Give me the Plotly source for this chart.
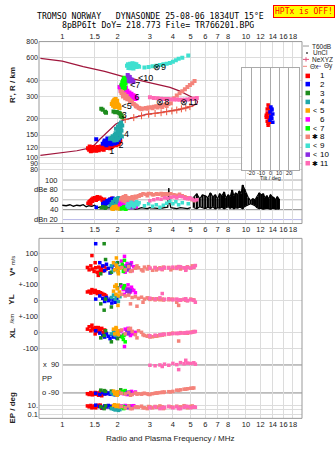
import math
import plotly.graph_objects as go

W, H = 335, 451
def PX(x): return x / W
def PY(y): return 1 - y / H

FONT = "Liberation Sans, Arial, sans-serif"
MONO = "DejaVu Sans Mono, Liberation Mono, monospace"

# ---------------- tick labels ----------------
FREQ_TICKS = [1, 1.5, 2, 3, 4, 5, 6, 7, 8, 10, 12, 14, 16, 18]
FREQ_LABELS = ["1", "1.5", "2", "3", "4", "5", "6", "7", "8", "10", "12", "14", "16", "18"]
HT_TICKS = [80, 90, 100, 120, 150, 200, 300, 400, 600, 800]
HT_LABELS = ["80", "90", "100", "120", "150", "200", "300", "400", "600", "800"]
DB_TICKS = [100, 80, 60, 40, 20]
DB_LABELS = ["100", "dBe 80", "60", "40", "dBn 20"]
TILT_TICKS = [-20, -10, 0, 10, 20]
TILT_LABELS = ["-20", "-10", "0", "10", "20"]

COLORS = ["#FF0000", "#0000FF", "#1E8C1E", "#20A8A8", "#FFA500", "#FF00FF",
          "#00FF00", "#F4837A", "#40E0D0", "#8A2BE2", "#FF69B4"]

# ---------------- height panel: echo clusters (freq MHz, virtual height km, amplitude dB) ----------------
F1 = [1.38,1.40,1.42,1.44,1.45,1.47,1.50,1.52,1.55,1.57,1.60,1.63,1.66,1.70,1.73,1.76,1.80,1.84,1.88,1.92,1.96,2.00,2.04,2.07,1.41,1.48,1.53,1.58,1.62,1.68,1.74,1.82,1.90,1.98,1.43,1.46,1.56,1.65,1.78,1.86,1.95,2.02]
R1 = [118,115,120,116,113,117,114,118,116,119,117,120,118,121,119,122,120,124,123,126,125,129,131,134,122,121,113,114,122,115,124,118,129,127,112,119,121,116,126,121,130,127]
A1 = [53,56,58,60,61,63,64,62,66,63,65,62,60,61,58,57,56,60,62,58,55,54,52,50,55,60,59,64,63,57,55,61,57,53,52,57,61,59,54,63,56,51]
F2 = [1.53,1.66,1.69,1.72,1.75,1.78,1.80,1.83,1.86,1.88,1.91,1.94,1.97,2.00,2.03,2.06,1.70,1.76,1.82,1.89,1.95,2.02,1.74,1.85,1.92,1.99]
R2 = [139,128,132,127,134,130,137,131,135,140,133,138,135,141,137,143,136,141,128,145,130,146,125,127,129,132]
A2 = [45,52,55,50,58,54,60,56,62,57,59,55,53,50,48,46,49,56,61,63,52,47,53,58,60,51]
F3 = [1.63,1.66,1.71,1.73,1.90,1.94,1.98,2.03,2.06,2.08,2.10,2.12]
R3 = [240,236,228,224,229,226,227,224,221,210,214,206]
A3 = [44,46,43,45,42,44,43,45,42,44,46,43]
F4 = [1.82,1.85,1.88,1.90,1.93,1.95,1.97,2.00,2.02,2.04,2.06,2.08,2.10,2.12,1.92,1.98,2.03,2.07,2.11,1.96,2.01,2.05,2.09]
R4 = [140,143,147,139,150,155,145,160,152,165,158,172,162,178,136,137,141,150,146,168,175,182,188]
A4 = [48,52,56,50,60,62,55,58,64,60,56,52,50,48,46,53,57,61,54,59,63,55,51]
F5 = [1.86,1.88,1.90,1.92,1.94,1.96,1.98,2.00,2.02,2.04,1.89,1.93,1.97,2.01,2.05,1.95,1.99]
R5 = [262,270,276,282,268,258,265,252,247,255,254,248,273,259,244,286,278]
A5 = [42,44,46,45,43,47,44,42,45,43,41,44,46,43,42,45,44]
F6 = [2.05,2.07,2.09,2.10,2.12,2.14,2.16,2.18,2.20,2.23,2.26,2.29,2.32,2.35,2.38,2.41,2.44,2.47,2.50,2.53,2.08,2.13,2.19,2.25,2.31,2.37,2.43,2.49,2.11,2.17,2.22]
R6 = [355,348,362,340,352,335,345,330,338,325,332,318,322,310,315,302,306,296,299,289,332,325,318,309,305,298,292,286,368,360,350]
A6 = [50,55,58,60,56,62,64,59,61,57,63,55,60,58,52,56,54,50,48,46,52,57,60,62,58,55,53,49,47,51,59]
F7 = [2.10,2.12,2.14,2.16,2.18,2.20,2.22,2.13,2.17,2.21,2.15,2.19]
R7 = [370,385,398,410,420,405,392,355,365,378,345,350]
A7 = [42,44,43,45,42,44,41,43,46,42,44,43]
F8 = [2.08,2.10,2.12,2.15,2.18,2.21,2.24,2.28,2.32,2.36,2.40,2.45,2.50,2.55,2.60,2.66,2.75,2.85,2.95,3.05,3.15,3.25,3.35,3.45,3.55,3.65,3.78,3.90,4.05,4.20,4.35,4.50,4.65,4.80,4.95,5.10,5.25,2.14,2.20,2.26,2.34,2.42,2.52,2.62,2.70,2.90,3.10,3.30,3.50,3.70]
R8 = [330,318,325,306,312,298,302,290,284,276,270,262,256,250,245,240,242,244,246,247,249,251,252,255,257,259,262,266,290,305,318,330,342,355,368,380,395,300,290,285,275,262,252,244,238,240,243,246,248,253]
A8 = [60,64,62,66,63,68,65,60,64,62,66,63,67,66,68,70,72,71,73,72,70,72,71,73,72,70,71,72,70,69,71,68,66,64,62,60,58,58,56,62,57,60,64,67,69,68,70,71,69,72]
F9 = [2.25,2.28,2.31,2.34,2.37,2.40,2.43,2.46,2.50,2.54,2.58,2.62,2.29,2.35,2.41,2.47,2.53,2.33,2.44,2.80,2.95,3.10,3.25,3.40,3.55,3.70,3.85,4.00,4.15,4.30,4.50,4.85]
R9 = [520,535,512,540,525,505,530,515,522,508,518,512,500,498,545,540,535,528,495,505,510,515,520,528,535,540,548,560,575,590,600,625]
A9 = [48,52,46,50,55,49,53,47,51,56,50,54,45,49,52,47,55,50,46,48,52,47,50,45,49,53,57,52,56,50,54,52]
F10 = [2.27,2.29,2.31,2.33,2.35,2.37,2.30,2.34,2.40,2.44]
R10 = [440,430,418,425,410,400,395,392,405,388]
A10 = [46,48,45,50,47,44,49,46,45,47]
F11 = [3.00,3.15,3.30,3.45,3.60,3.75,3.90,4.05,4.20,4.35,4.50,4.65,4.80,4.95,5.10,5.25,5.40]
R11 = [296,292,290,288,287,286,285,284,284,283,283,283,284,285,287,289,292]
A11 = [58,60,62,61,64,63,65,66,64,67,66,63,62,64,61,59,60]

# cluster labels on the height panel
LBL_F = [1.80, 2.02, 2.11, 2.17, 2.10, 2.47, 2.34, 3.25, 3.12, 2.58, 4.40]
LBL_H = [112, 124, 212, 150, 250, 293, 364, 266, 503, 410, 266]
LBL_T = ["1", "2", "3", "4", "<5", "6", "<7", "⊗8", "⊗9", "<10", "⊗11"]

# model profile (NeXYZ) path
PROF_F = [0.76,1.0,1.3,1.7,2.15,2.7,3.3,3.86,4.37,4.9,5.18,5.39,5.45,5.39,5.18,4.8,4.37,3.86,3.4,2.88,2.5,2.15,1.95,1.82,1.7,1.6,1.51,1.42,1.2,1.0,0.76]
PROF_H = [594,565,512,470,428,395,370,353,330,305,292,280,272,262,255,245,238,230,224,217,207,196,182,166,152,139,127,119,113,109,104]
NX_F = [2.2,2.45,2.7,2.95,3.2,3.45,3.7,3.95,4.2,4.45,4.7,4.95]
NX_H = [198,205,212,218,221,224,228,231,235,240,244,250]

# ---------------- amplitude panel: background noise ----------------
BLK_F = [1.0,1.05,1.1,1.15,1.2,1.25,1.3,1.35,1.4,1.45,1.5,1.55,1.6,1.7,1.8,1.9,2.0,2.1,2.2,2.3,2.4,2.5,2.6,2.7,2.8,2.9,3.0,3.2,3.4,3.6,3.75,3.8,3.85,3.9,4.0,4.2,4.4,4.6,4.8,5.0]
BLK_DB = [49,48,50,47,49,48,50,46,48,47,49,44,45,43,44,42,43,41,44,42,43,41,42,44,43,42,44,43,42,44,45,84,52,44,43,42,44,43,42,44]
NZ_F = [5.2,5.4,5.6,5.8,6.0,6.2,6.4,6.6,6.8,7.0,7.2,7.4,7.6,7.8,8.0,8.2,8.4,8.6,8.8,9.0,9.2,9.4,9.6,9.8,10.0,10.3,10.6,10.9,11.2,11.5,11.8,12.1,12.4,12.7,13.0,13.3,13.6,13.9,14.2,14.5,14.8,15.1]
NZ_HI = [66,72,62,70,68,64,74,66,70,62,72,68,76,64,70,66,80,68,74,70,78,72,90,82,74,64,58,62,60,66,74,70,72,64,68,62,70,66,64,60,66,62]
NZ_LO = [44,42,46,44,42,45,43,46,42,44,43,45,42,44,46,43,45,42,44,43,45,44,42,46,48,50,52,50,48,44,42,43,41,42,43,42,41,42,43,41,42,41]

# ---------------- lower panel: V* (m/s), YL, XL, PP (deg), EP (deg) ----------------
LF1 = [1.37,1.40,1.43,1.46,1.49,1.52,1.55,1.58,1.61,1.64,1.67,1.70,1.73,1.45,1.51,1.57]
V1 = [10,-5,20,0,-15,8,-20,12,-8,5,-12,18,0,85,40,-40]
YL1 = [55,60,48,62,52,58,45,55,50,46,40,38,30,70,65,55]
XL1 = [20,35,10,25,15,30,5,20,10,25,0,15,-5,45,-10,30]
PP1 = [-95,-100,-88,-102,-92,-98,-90,-105,-84,-108,-86,-96,-93,-99,-87,-101]
EP1 = [8,5,10,4,7,3,6,9,12,2.5,4,6,5,3,8,11]
LF2 = [1.52,1.60,1.66,1.70,1.74,1.78,1.82,1.86,1.90,1.94,1.98]
V2 = [160,40,20,-10,30,5,-25,15,-5,25,0]
YL2 = [10,30,15,-5,20,0,10,-15,5,-10,15]
XL2 = [10,-5,-20,-30,-10,-25,-40,-15,-30,-20,-35]
PP2 = [-92,-100,-88,-96,-94,-90,-98,-86,-95,-102,-91]
EP2 = [12,6,3,8,5,10,4,7,3,6,2]
LF3 = [1.62,1.69,1.72,1.85,2.00,2.08]
V3 = [-30,160,60,-20,40,10]
YL3 = [-20,-60,10,-40,80,100]
XL3 = [-35,-20,10,-60,-40,-25]
PP3 = [-72,-75,-80,-78,-85,-70]
EP3 = [5,2,8,3,6,4]
LF4 = [1.85,1.90,1.94,1.98,2.02,2.06]
V4 = [20,-10,35,0,-20,15]
YL4 = [20,35,10,30,-5,25]
XL4 = [-10,5,-20,0,-15,10]
PP4 = [-90,-100,-95,-88,-97,-92]
EP4 = [2,1.5,1,3,0.8,1.2]
LF5 = [1.90,1.93,1.96,1.99,2.02,2.05,1.97,2.01]
V5 = [40,-5,25,10,-30,5,70,-15]
YL5 = [60,90,40,75,30,55,100,-30]
XL5 = [20,-10,30,5,-15,10,25,-5]
PP5 = [-78,-95,-85,-105,-90,-82,-98,-88]
EP5 = [10,15,6,8,12,5,9,7]
LF6 = [2.10,2.15,2.20,2.25,2.30,2.35,2.40,2.45,2.50,2.18,2.28,2.38]
V6 = [50,20,-20,35,10,25,-10,15,5,80,-5,40]
YL6 = [90,70,80,60,75,55,70,65,50,40,100,85]
XL6 = [10,-15,20,-5,15,-20,5,-10,0,-90,25,-5]
PP6 = [-88,-95,-82,-100,-92,-86,-97,-90,-84,-93,-99,-80]
EP6 = [8,5,10,4,6,7,3,9,5,4,6,8]
LF7 = [2.12,2.15,2.18,2.20,2.16]
V7 = [30,-15,55,10,-5]
YL7 = [110,80,95,125,105]
XL7 = [-30,-45,-15,-60,-20]
PP7 = [-80,-92,-85,-75,-88]
EP7 = [4,6,3,5,2]
LF8 = [2.10,2.20,2.30,2.40,2.50,2.60,2.70,2.80,2.90,3.00,3.10,3.20,3.30,3.40,3.50,3.60,3.80,4.00,4.20,4.40,4.60,4.80,5.00,5.20,2.35,2.55,2.75,2.95,3.25,3.55,3.90,4.30,4.70,5.10]
V8 = [10,-5,15,-10,5,8,-5,12,0,5,-8,10,2,8,-4,6,10,4,12,0,8,14,6,10,-15,20,-12,15,-6,12,-5,15,-3,20]
YL8 = [40,30,35,20,25,15,22,10,18,8,12,5,10,6,10,8,6,10,-10,5,8,0,10,5,-20,-35,-10,15,12,4,8,-30,3,6]
XL8 = [15,-10,20,5,-15,10,0,-20,-25,-30,-28,-25,-22,-20,-18,-15,-10,-5,-8,-2,-5,-6,0,5,25,-35,-15,-20,-24,-12,-8,-55,-4,2]
PP8 = [-92,-96,-88,-100,-90,-95,-98,-92,-96,-100,-95,-92,-90,-88,-85,-84,-82,-80,-72,-70,-66,-63,-60,-58,-105,-98,-94,-99,-91,-87,-83,-74,-66,-60]
EP8 = [6,3,8,2,5,4,7,3,2,5,3,6,4,8,5,3,6,4,7,5,9,3,6,4,2,5,3,6,4,2,5,3,6,8]
LF10 = [2.25,2.28,2.31,2.34]
V10 = [20,-5,10,30]
YL10 = [60,70,50,65]
XL10 = [5,-10,0,10]
PP10 = [-90,-85,-95,-88]
EP10 = [5,3,7,4]
LF11 = [3.00,3.20,3.40,3.60,3.80,4.00,4.20,4.40,4.60,4.80,5.00,5.20,5.30,3.50,4.30,4.70]
V11 = [5,8,2,10,6,12,4,14,8,10,6,12,22,0,15,-8]
YL11 = [15,10,18,8,12,5,10,3,8,0,6,2,-10,45,4,12]
XL11 = [-22,-18,-15,-12,-10,-8,-6,-5,-4,0,-2,3,5,-14,-7,-3]
PP11 = [88,85,90,95,88,100,92,105,98,102,100,104,95,80,60,120]
EP11 = [3,5,2,4,6,3,5,2,4,6,3,5,4,3,2,6]

# ---------------- tilt inset ----------------
TILT_R = [-2,-1,0,-3,-4,-2,-1,-3,0,-2,-4,-1,-3,-2]
TY_R = [64,61,58,56,54,52,50,48,47,46,52,55,60,44]
TILT_B = [1,2,0,3,1,2,0,3,2,1]
TY_B = [62,59,57,55,53,51,49,47,60,52]

# legend rows
LEG_PREFIX = ["", "", "", "", "<", "", "<", "✱", "<", "<", "✱"]
LEG_NUM = ["1", "2", "3", "4", "5", "6", "7", "8", "9", "10", "11"]
LEG_Y = [72.7, 81, 90, 99, 107.7, 116.7, 125.7, 134.3, 143.3, 152.3, 161]

# ---------------- build table ----------------
HCL = [(F1, R1, A1), (F2, R2, A2), (F3, R3, A3), (F4, R4, A4), (F5, R5, A5), (F6, R6, A6),
       (F7, R7, A7), (F8, R8, A8), (F9, R9, A9), (F10, R10, A10), (F11, R11, A11)]
LCL = {0: (LF1, V1, YL1, XL1, PP1, EP1), 1: (LF2, V2, YL2, XL2, PP2, EP2), 2: (LF3, V3, YL3, XL3, PP3, EP3),
       3: (LF4, V4, YL4, XL4, PP4, EP4), 4: (LF5, V5, YL5, XL5, PP5, EP5), 5: (LF6, V6, YL6, XL6, PP6, EP6),
       6: (LF7, V7, YL7, XL7, PP7, EP7), 9: (LF10, V10, YL10, XL10, PP10, EP10),
       7: (LF8, V8, YL8, XL8, PP8, EP8), 10: (LF11, V11, YL11, XL11, PP11, EP11)}

fig = go.Figure()

# profile curve and NeXYZ marks
fig.add_trace(go.Scatter(x=PROF_F, y=PROF_H, mode="lines", line=dict(color="#A0163C", width=1.2),
                         xaxis="x", yaxis="y", hoverinfo="skip"))
fig.add_trace(go.Scatter(x=NX_F, y=NX_H, mode="markers", xaxis="x", yaxis="y",
                         marker=dict(symbol="cross-thin-open", size=5, line=dict(color="#E0507A", width=1))))

# black noise (amplitude panel)
fig.add_trace(go.Scatter(x=BLK_F, y=BLK_DB, mode="lines", line=dict(color="black", width=1.3),
                         xaxis="x2", yaxis="y2"))
nx, ny = [], []
for f, lo, hi in zip(NZ_F, NZ_LO, NZ_HI):
    nx += [f, f, None]
    ny += [lo, hi, None]
fig.add_trace(go.Scatter(x=nx, y=ny, mode="lines", line=dict(color="black", width=2.2),
                         xaxis="x2", yaxis="y2"))
fig.add_trace(go.Scatter(x=NZ_F, y=NZ_HI, mode="lines", line=dict(color="black", width=1.2),
                         xaxis="x2", yaxis="y2"))
fig.add_trace(go.Scatter(x=NZ_F, y=NZ_LO, mode="lines", line=dict(color="black", width=1.2),
                         xaxis="x2", yaxis="y2"))

order = [0, 1, 2, 3, 4, 5, 6, 9, 7, 8, 10]
for i in order:
    f, r, a = HCL[i]
    fig.add_trace(go.Scatter(x=f, y=r, mode="markers", xaxis="x", yaxis="y",
                             marker=dict(symbol="square", size=4, color=COLORS[i], line=dict(width=0))))
    fig.add_trace(go.Scatter(x=f, y=a, mode="markers", xaxis="x2", yaxis="y2",
                             marker=dict(symbol="square", size=3.5, color=COLORS[i], line=dict(width=0))))

fig.add_trace(go.Scatter(x=LBL_F, y=LBL_H, mode="text", text=LBL_T, xaxis="x", yaxis="y",
                         textfont=dict(family=FONT, size=9, color="black"), textposition="middle right"))

for i in [0, 1, 2, 3, 4, 5, 6, 9, 7, 10]:
    lf, v, yl, xl, pp, ep = LCL[i]
    for vals, ya in [(v, "y3"), (yl, "y5"), (xl, "y6"), (pp, "y7"), (ep, "y8")]:
        fig.add_trace(go.Scatter(x=lf, y=vals, mode="markers", xaxis="x3", yaxis=ya, cliponaxis=False,
                                 marker=dict(symbol="square", size=3.5, color=COLORS[i], line=dict(width=0))))

# inset
fig.add_trace(go.Scatter(x=TILT_R, y=TY_R, mode="markers", xaxis="x4", yaxis="y4",
                         marker=dict(symbol="square", size=3.5, color="#FF0000", line=dict(width=0))))
fig.add_trace(go.Scatter(x=TILT_B, y=TY_B, mode="markers", xaxis="x4", yaxis="y4",
                         marker=dict(symbol="square", size=3.5, color="#0000FF", line=dict(width=0))))

# ---------------- axes ----------------
XDOM = [PX(39), PX(302)]
XR = [-0.1268, 1.3049]
GRID = "#DCDCDC"
tickf = dict(family=FONT, size=7.5, color="#222")
xcommon = dict(type="log", range=XR, domain=XDOM, tickmode="array", tickvals=FREQ_TICKS,
               ticktext=FREQ_LABELS, showgrid=True, gridcolor=GRID, gridwidth=1, zeroline=False,
               showline=False, ticks="", tickfont=tickf, tickangle=0)
ycommon = dict(zeroline=False, showline=False, ticks="", tickfont=tickf, showgrid=True,
               gridcolor=GRID, gridwidth=1, tickmode="array")

fig.update_layout(
    width=W, height=H, margin=dict(l=0, r=0, t=0, b=0),
    paper_bgcolor="white", plot_bgcolor="white", showlegend=False,
    font=dict(family=FONT, size=8, color="#222"),
    xaxis=dict(xcommon, anchor="y", side="top"),
    yaxis=dict(ycommon, type="log", domain=[PY(174), PY(38)], range=[1.8557, 2.9051],
               tickvals=HT_TICKS, ticktext=HT_LABELS, anchor="x", tickfont=dict(family=FONT, size=7, color="#222")),
    xaxis2=dict(xcommon, anchor="y2", side="bottom"),
    yaxis2=dict(ycommon, domain=[PY(222), PY(174)], range=[12, 108], showgrid=False,
                showticklabels=False, anchor="x2"),
    xaxis3=dict(xcommon, anchor="y8", side="bottom"),
    yaxis3=dict(ycommon, domain=[PY(284), PY(237)], range=[-100, 193.75], tickvals=[100, 0],
                ticktext=["100", "0"], anchor="x3"),
    yaxis5=dict(ycommon, domain=[PY(316), PY(284)], range=[-100, 100], tickvals=[100, 0],
                ticktext=["+-100", "0"], anchor="x3"),
    yaxis6=dict(ycommon, domain=[PY(352), PY(316)], range=[-125, 100], tickvals=[100, 0, -100],
                ticktext=["+-100", "0", "-100"], anchor="x3"),
    yaxis7=dict(ycommon, domain=[PY(400), PY(352)], range=[-132.6, 172.7], showgrid=False,
                showticklabels=False, anchor="x3"),
    yaxis8=dict(ycommon, type="log", domain=[PY(419), PY(400)], range=[-1.889, 2.333],
                tickvals=[10, 1, 0.1], ticktext=["10.", "", "0.1"], anchor="x3"),
    xaxis4=dict(domain=[PX(242.3), PX(299)], range=[-29.8, 31.2], anchor="y4", tickmode="array",
                tickvals=TILT_TICKS, showgrid=True, showticklabels=False,
                gridcolor="#AAAAAA", zeroline=False, showline=True, mirror=True, linecolor="#AAAAAA",
                ticks=""),
    yaxis4=dict(domain=[PY(168), PY(65)], range=[0, 100], anchor="x4", showgrid=False,
                zeroline=False, showline=True, mirror=True, linecolor="#AAAAAA", showticklabels=False,
                ticks=""),
)

shapes = []
FRAME = "#999999"
# frames
shapes.append(dict(type="rect", xref="paper", yref="paper", x0=PX(39), x1=PX(302), y0=PY(222), y1=PY(38),
                   line=dict(color=FRAME, width=1), layer="above"))
shapes.append(dict(type="rect", xref="paper", yref="paper", x0=PX(39), x1=PX(302), y0=PY(419), y1=PY(237),
                   line=dict(color=FRAME, width=1), layer="above"))
# amplitude panel grid lines (start at 1 MHz)
for v, c in zip(DB_TICKS, ["#AAAAAA", "#BBBBBB", "#BBBBBB", "#888888", "#B8B8E8"]):
    shapes.append(dict(type="line", xref="paper", yref="y2", x0=PX(62.3), x1=PX(302), y0=v, y1=v,
                       line=dict(color=c, width=1), layer="below"))
# PP reference lines
for v in [90, -90]:
    shapes.append(dict(type="line", xref="paper", yref="y7", x0=PX(62), x1=PX(302), y0=v, y1=v,
                       line=dict(color="#888888", width=1), layer="below"))
# legend squares
for yv, c in zip(LEG_Y, COLORS):
    shapes.append(dict(type="rect", xref="paper", yref="paper", x0=PX(305.5), x1=PX(310), y0=PY(yv + 2.3),
                       y1=PY(yv - 2.3), fillcolor=c, line=dict(width=0)))
# legend line samples
shapes.append(dict(type="line", xref="paper", yref="paper", x0=PX(303), x1=PX(309), y0=PY(42.5), y1=PY(42.5),
                   line=dict(color="#999999", width=1)))
shapes.append(dict(type="line", xref="paper", yref="paper", x0=PX(303), x1=PX(309), y0=PY(56), y1=PY(56),
                   line=dict(color="#E0507A", width=1)))
shapes.append(dict(type="line", xref="paper", yref="paper", x0=PX(306), x1=PX(306), y0=PY(53.8), y1=PY(58.2),
                   line=dict(color="#E0507A", width=1)))
shapes.append(dict(type="line", xref="paper", yref="paper", x0=PX(303), x1=PX(307), y0=PY(63), y1=PY(63),
                   line=dict(color="#F4837A", width=1)))
shapes.append(dict(type="line", xref="paper", yref="paper", x0=PX(317), x1=PX(321), y0=PY(63), y1=PY(63),
                   line=dict(color="#8888DD", width=1)))
shapes.append(dict(type="rect", xref="paper", yref="paper", x0=PX(306.3), x1=PX(307.7), y0=PY(50.2), y1=PY(48.8),
                   fillcolor="black", line=dict(width=0)))
fig.update_layout(shapes=shapes)

ann = []
def T(x, y, text, size=8, color="#222", xanchor="center", family=FONT, angle=0, **kw):
    ann.append(dict(xref="paper", yref="paper", x=PX(x), y=PY(y), text=text, showarrow=False,
                    xanchor=xanchor, yanchor="middle", textangle=angle,
                    font=dict(family=family, size=size, color=color), **kw))

T(150, 12, "TROMSO NORWAY   DYNASONDE 25-08-06 1834UT 15°E", size=8.2, color="black", family=MONO)
T(157.5, 21.5, "8pBP6It DoY= 218.773 File= TR766201.BPG", size=8.2, color="black", family=MONO)
T(303.5, 8, "HPTx is OFF!", size=8, color="#FF0000", family=MONO, bgcolor="#FFFF00",
  bordercolor="#FF0000", borderwidth=1, borderpad=1)
# axis titles
T(12, 82, "<b>R', R / km</b>", size=8, angle=-90)
T(12, 265, "<b>V*</b> <span style='font-size:6px'>m/s</span>", size=8, angle=-90)
T(12, 299, "<b>YL</b>", size=8, angle=-90)
T(12, 318, "<span style='font-size:6px'>/km</span>", size=6, angle=-90)
T(12, 333, "<b>XL</b>", size=8, angle=-90)
T(12, 408, "<b>EP / deg</b>", size=8, angle=-90)
T(170, 439, "Radio and Plasma Frequency / MHz", size=8)
# amplitude panel labels (inside frame)
for v, lab in zip(DB_TICKS, DB_LABELS):
    ann.append(dict(xref="paper", yref="y2", x=PX(60), y=v, text=lab, showarrow=False, xanchor="right",
                    yanchor="middle", font=dict(family=FONT, size=7.5, color="#222")))
# PP labels
ann.append(dict(xref="paper", yref="y7", x=PX(61), y=90, text="x  90", showarrow=False, xanchor="right",
                yanchor="middle", font=dict(family=FONT, size=7.5, color="#222")))
ann.append(dict(xref="paper", yref="y7", x=PX(61), y=-90, text="o -90", showarrow=False, xanchor="right",
                yanchor="middle", font=dict(family=FONT, size=7.5, color="#222")))
T(47, 379, "PP", size=7.5)
# inset tick labels and title
for tv, tl in zip(TILT_TICKS, TILT_LABELS):
    ann.append(dict(xref="x4", yref="paper", x=tv, y=PY(170.5), text=tl, showarrow=False, xanchor="center",
                    yanchor="middle", font=dict(family=FONT, size=5.5, color="#222")))
T(270, 176, "Tilt / deg", size=5.5)
# legend texts
T(310, 42.5, "T60dB", size=6.5, xanchor="left")
T(311, 49.3, "UnCl", size=6.5, xanchor="left")
T(310, 56, "NeXYZ", size=6.5, xanchor="left")
T(307.5, 63, "Θx", size=6.5, xanchor="left")
T(321.5, 63, "Θy", size=6.5, xanchor="left")
for yv, p, n in zip(LEG_Y, LEG_PREFIX, LEG_NUM):
    if p:
        T(315, yv, p, size=7, color="black")
    T(318, yv, n, size=8, color="black", xanchor="left")
fig.update_layout(annotations=ann)

fig.write_html("out.html")
